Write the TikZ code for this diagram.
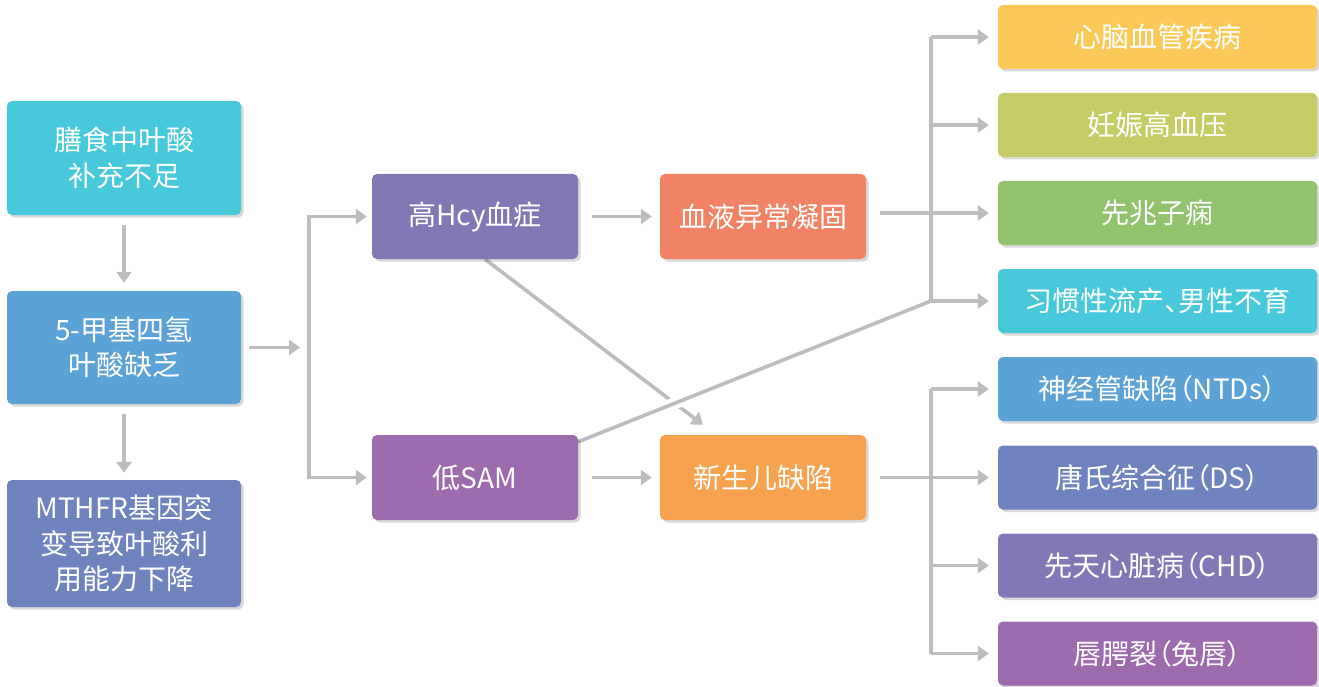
\documentclass[tikz,border=0pt]{standalone}
\usepackage{fontspec}
\setmainfont[RawFeature={+palt}]{Noto Sans CJK SC}
\usetikzlibrary{arrows.meta,shadows,calc}
\definecolor{cCyan}{HTML}{47C8DB}
\definecolor{cBlue}{HTML}{5BA3D6}
\definecolor{cSlate}{HTML}{6F84BF}
\definecolor{cLav}{HTML}{8378B5}
\definecolor{cPurp}{HTML}{9E6BAE}
\definecolor{cCoral}{HTML}{F28264}
\definecolor{cOrange}{HTML}{F6A24F}
\definecolor{cYellow}{HTML}{FCC858}
\definecolor{cOlive}{HTML}{C5CC65}
\definecolor{cGreen}{HTML}{93C36E}
\definecolor{lineGray}{HTML}{BDBDC0}
\pgfdeclarelayer{bg}
\pgfsetlayers{bg,main}
\begin{document}
\begin{tikzpicture}[x=1pt,y=-1pt,
  box/.style={rectangle, rounded corners=5pt, text=white, align=center, inner sep=0pt,
    font=\fontsize{28}{35.5}\selectfont,
    drop shadow={shadow xshift=2.5pt, shadow yshift=-2.5pt, opacity=0.15, fill=black}},
  leftbox/.style={box, minimum width=234pt},
  midbox/.style={box, minimum width=206pt, minimum height=85pt},
  rightbox/.style={box, minimum width=319pt, minimum height=64pt},
  conn/.style={draw=lineGray, line width=3.6pt},
  arr/.style={conn, -{Triangle[length=11pt,width=15pt]}}
]
\useasboundingbox (0,0) rectangle (1319,687);

% left column
\node[leftbox, fill=cCyan, minimum height=114pt] (A) at (124,158) {膳食中叶酸\\补充不足};
\node[leftbox, fill=cBlue, minimum height=113pt] (B) at (124,347.5) {5-甲基四氢\\叶酸缺乏};
\node[leftbox, fill=cSlate, minimum height=127pt] (C) at (124,543.5) {MTHFR基因突\\变导致叶酸利\\用能力下降};

% middle
\node[midbox, fill=cLav] (D) at (475,216.5) {高Hcy血症};
\node[midbox, fill=cPurp] (E) at (475,477.5) {低SAM};
\node[midbox, fill=cCoral] (F) at (763,216.5) {血液异常凝固};
\node[midbox, fill=cOrange] (G) at (763,477.5) {新生儿缺陷};

% right
\node[rightbox, fill=cYellow] (r1) at (1157.5,37) {心脑血管疾病};
\node[rightbox, fill=cOlive] (r2) at (1157.5,125) {妊娠高血压};
\node[rightbox, fill=cGreen] (r3) at (1157.5,213) {先兆子痫};
\node[rightbox, fill=cCyan] (r4) at (1157.5,301) {习惯性流产、男性不育};
\node[rightbox, fill=cBlue] (r5) at (1157.5,389) {神经管缺陷（NTDs）};
\node[rightbox, fill=cSlate] (r6) at (1157.5,477.5) {唐氏综合征（DS）};
\node[rightbox, fill=cLav] (r7) at (1157.5,565.5) {先天心脏病（CHD）};
\node[rightbox, fill=cPurp] (r8) at (1157.5,653.5) {唇腭裂（兔唇）};

\coordinate (tl) at (309,0);
\coordinate (tr) at (931,0);

\begin{pgfonlayer}{bg}
\fill[white] (0,0) rectangle (1319,687);
% left column arrows
\draw[arr, shorten <=10pt, shorten >=8pt] (A.south) -- (B.north);
\draw[arr, shorten <=10pt, shorten >=7pt] (B.south) -- (C.north);
\draw[arr, shorten <=8pt, shorten >=9pt] (B.east) -- (tl |- B.east);
% left bracket
\draw[arr, shorten >=5pt] (tl |- B.east) |- (D.west);
\draw[arr, shorten >=5pt] (tl |- B.east) |- (E.west);
% middle arrows
\draw[arr, shorten <=14pt, shorten >=8pt] (D.east) -- (F.west);
\draw[arr, shorten <=14pt, shorten >=8pt] (E.east) -- (G.west);
\draw[arr] ([xshift=10pt]D.south) -- ([xshift=-60pt,yshift=10pt]G.north);
% low SAM to right trunk (crossing over)
\draw[conn, preaction={draw=white, line width=12pt}] ([yshift=-7pt]E.north east) -- (tr |- r4.west);
% upper bracket
\draw[conn] (tr |- r1.west) -- (tr |- r4.west);
\draw[arr, shorten >=9pt] (tr |- r1.west) -- (r1.west);
\draw[arr, shorten >=9pt] (tr |- r2.west) -- (r2.west);
\draw[arr, shorten >=9pt] (tr |- r4.west) -- (r4.west);
\draw[arr, shorten <=14pt, shorten >=9pt] (F.east |- r3.west) -- (r3.west);
% lower bracket
\draw[conn] (tr |- r5.west) -- (tr |- r8.west);
\draw[arr, shorten >=9pt] (tr |- r5.west) -- (r5.west);
\draw[arr, shorten >=9pt] (tr |- r7.west) -- (r7.west);
\draw[arr, shorten >=9pt] (tr |- r8.west) -- (r8.west);
\draw[arr, shorten <=14pt, shorten >=9pt] (G.east |- r6.west) -- (r6.west);
\end{pgfonlayer}
\end{tikzpicture}
\end{document}
